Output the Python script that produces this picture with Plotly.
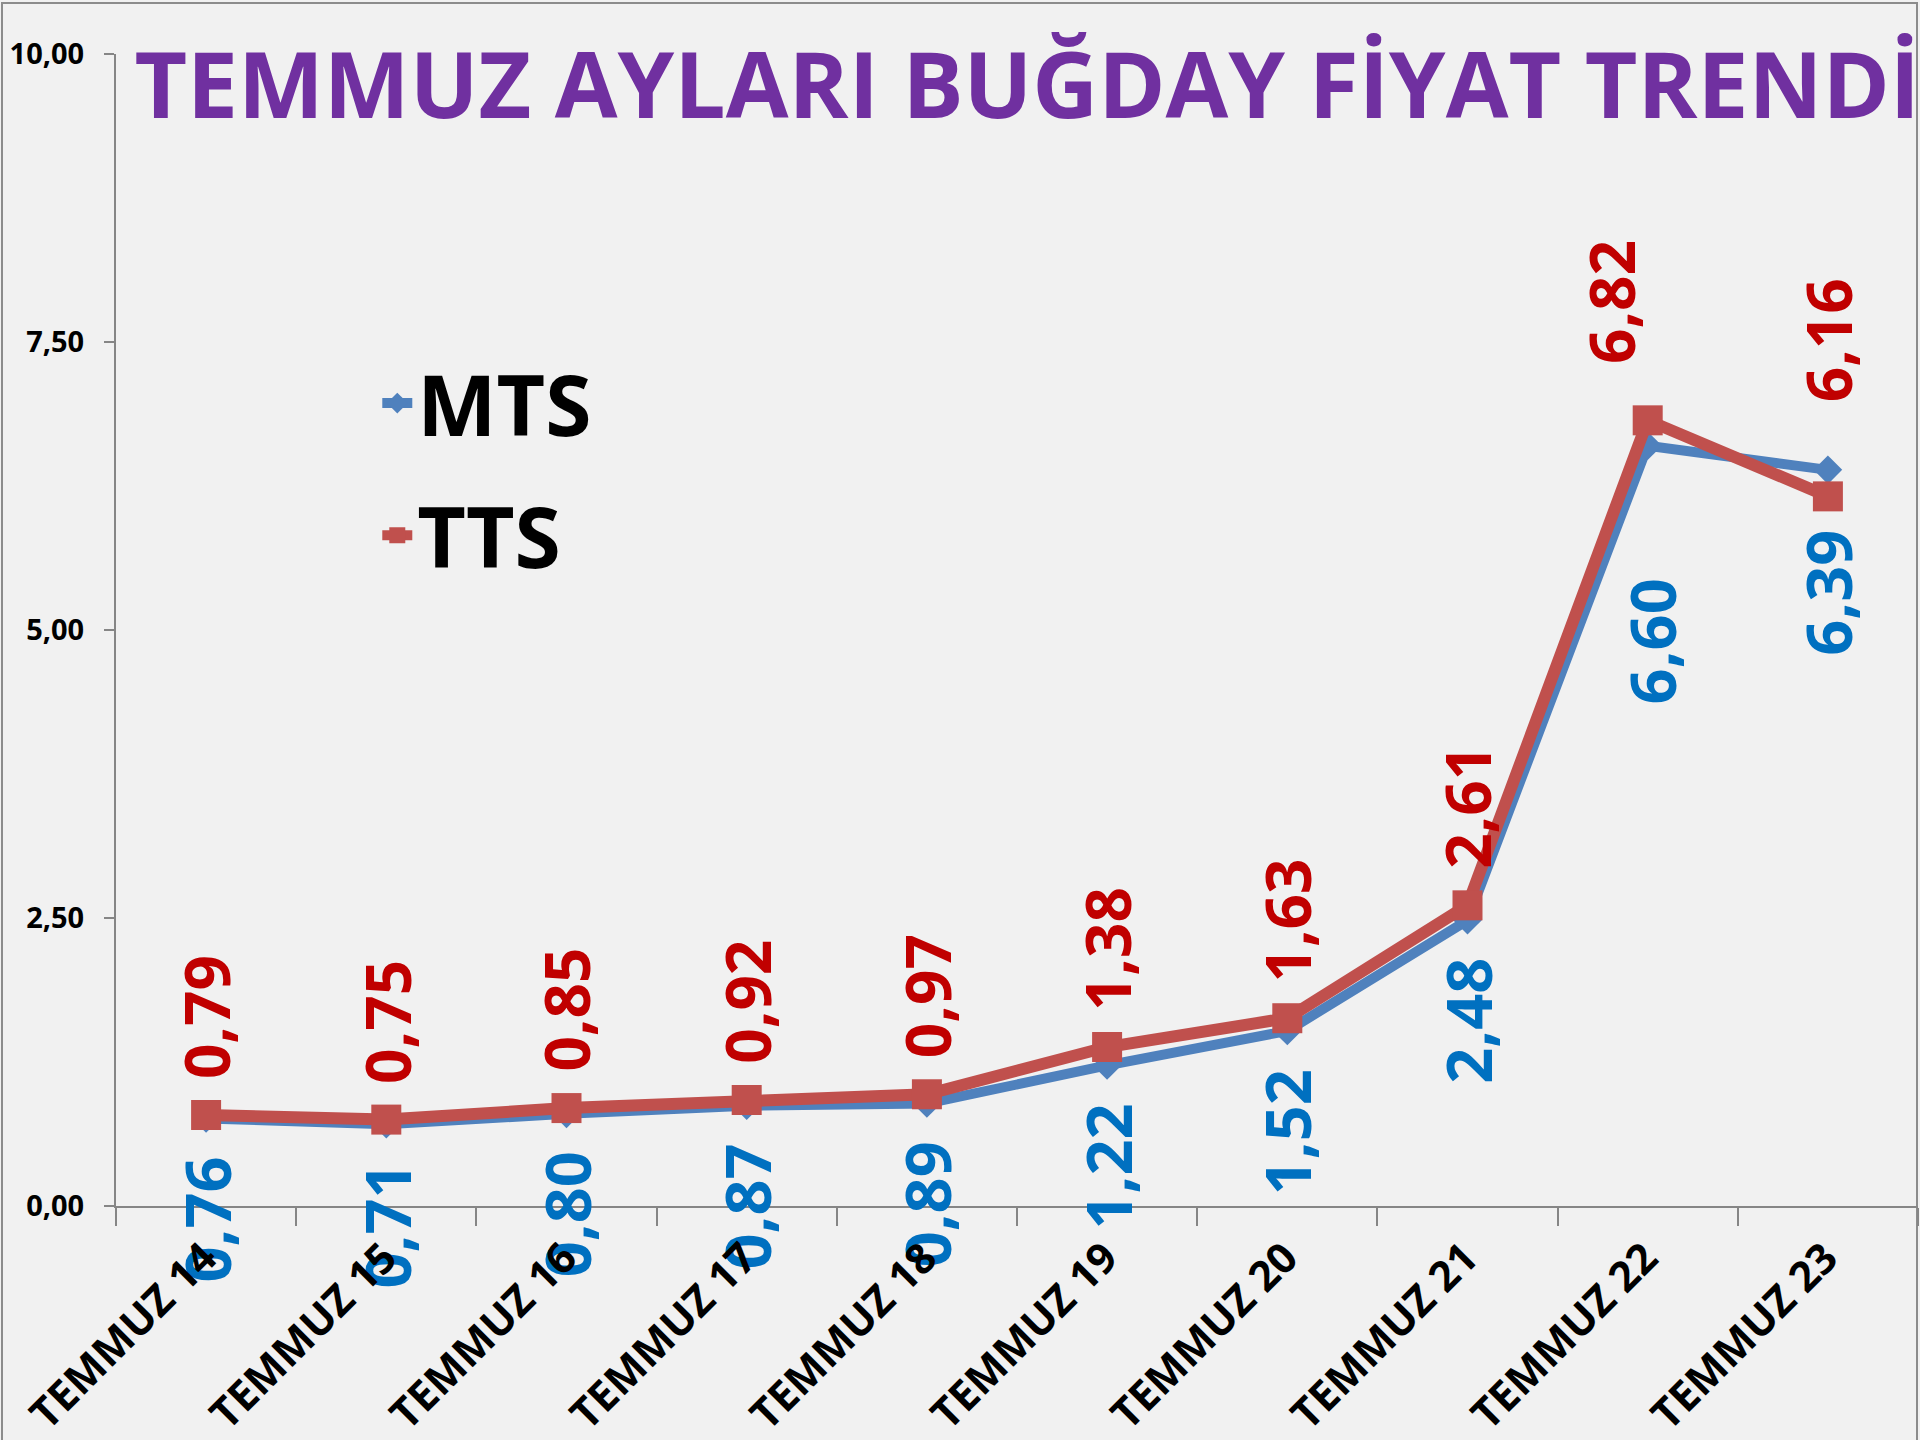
import plotly.graph_objects as go

# ── Données ───────────────────────────────────────────────────────────────
categories = ["TEMMUZ 14", "TEMMUZ 15", "TEMMUZ 16", "TEMMUZ 17", "TEMMUZ 18",
              "TEMMUZ 19", "TEMMUZ 20", "TEMMUZ 21", "TEMMUZ 22", "TEMMUZ 23"]
mts = [0.76, 0.71, 0.80, 0.87, 0.89, 1.22, 1.52, 2.48, 6.60, 6.39]
tts = [0.79, 0.75, 0.85, 0.92, 0.97, 1.38, 1.63, 2.61, 6.82, 6.16]
y_ticks = [0, 2.5, 5, 7.5, 10]

FONT = "Open Sans"
BLUE_LINE, BLUE_TEXT = "#4F81BD", "#0070C0"
RED_LINE, RED_TEXT = "#C0504D", "#C00000"
W, H = 1920, 1440
ML, MR, MT, MB = 116, 2, 54, 234

fig = go.Figure()
fig.add_trace(go.Scatter(
    x=categories, y=mts, name="MTS", mode="lines+markers",
    line=dict(color=BLUE_LINE, width=10),
    marker=dict(symbol="diamond", size=22, color=BLUE_LINE),
    legendgroup="a",
))
fig.add_trace(go.Scatter(
    x=categories, y=tts, name="TTS", mode="lines+markers",
    line=dict(color=RED_LINE, width=12),
    marker=dict(symbol="square", size=30, color=RED_LINE),
    legendgroup="b",
))

# ── Étiquettes verticales (petits décalages manuels comme dans l'original) ─
nudge_red = {"TEMMUZ 22": (-36, 20), "TEMMUZ 23": (0, 58)}
nudge_blue = {"TEMMUZ 22": (4, -95), "TEMMUZ 23": (0, -22)}

def fmt(v):
    return f"{v:.2f}".replace(".", ",")

for cat, v in zip(categories, tts):
    dx, dy = nudge_red.get(cat, (0, 0))
    fig.add_annotation(x=cat, y=v, text=fmt(v), textangle=-90, showarrow=False,
                       yanchor="bottom", yshift=34 + dy, xshift=dx,
                       font=dict(family=FONT, size=62, color=RED_TEXT, weight="bold"))
for cat, v in zip(categories, mts):
    dx, dy = nudge_blue.get(cat, (0, 0))
    fig.add_annotation(x=cat, y=v, text=fmt(v), textangle=-90, showarrow=False,
                       yanchor="top", yshift=-36 + dy, xshift=dx,
                       font=dict(family=FONT, size=63, color=BLUE_TEXT, weight="bold"))

# ── Libellés de l'axe X par-dessus les étiquettes bleues (comme dans Excel) ─
for cat in categories:
    fig.add_annotation(x=cat, y=0, text=cat, textangle=-45, showarrow=False,
                       xanchor="right", yanchor="top", xshift=24, yshift=-20,
                       font=dict(family=FONT, size=42, color="black", weight="bold"))

# cadre gris autour du graphique
pw, ph = W - ML - MR, H - MT - MB
fig.add_shape(type="rect", xref="paper", yref="paper",
              x0=(2 - ML) / pw, x1=(W - 3 - ML) / pw,
              y0=-(MB + 10) / ph, y1=1 + (MT - 3) / ph,
              line=dict(color="#8C8C8C", width=2), layer="below")

fig.update_xaxes(
    type="category", range=[-0.5, 9.5], automargin=False, showticklabels=False,
    showline=True, linecolor="#868686", linewidth=2,
    ticks="outside", tickson="boundaries", ticklen=18, tickcolor="#868686", tickwidth=2,
    showgrid=False, zeroline=False,
)
fig.update_yaxes(
    range=[0, 10], tickvals=y_ticks, tickformat=".2f", automargin=False,
    showline=True, linecolor="#868686", linewidth=2,
    ticks="outside", ticklen=10, tickcolor="#868686", tickwidth=2,
    ticklabelstandoff=14, showgrid=False, zeroline=False,
    tickfont=dict(family=FONT, size=29, color="black", weight="bold"),
)

fig.update_layout(
    width=W, height=H,
    separators=",.",
    title=dict(text="TEMMUZ AYLARI BUĞDAY FİYAT TRENDİ",
               x=0.535, xanchor="center", y=0.94, yanchor="middle",
               font=dict(family=FONT, size=91, color="#7030A0", weight="bold")),
    legend=dict(x=0.145, y=0.75, xanchor="left", yanchor="top",
                bgcolor="rgba(0,0,0,0)", traceorder="grouped", tracegroupgap=20,
                font=dict(family=FONT, size=84, color="black", weight="bold")),
    paper_bgcolor="#F1F1F1",
    plot_bgcolor="#F1F1F1",
    margin=dict(l=ML, r=MR, t=MT, b=MB),
)

fig.write_html("out.html", config={"displayModeBar": False},
               post_script="document.body.style.margin='0';")
